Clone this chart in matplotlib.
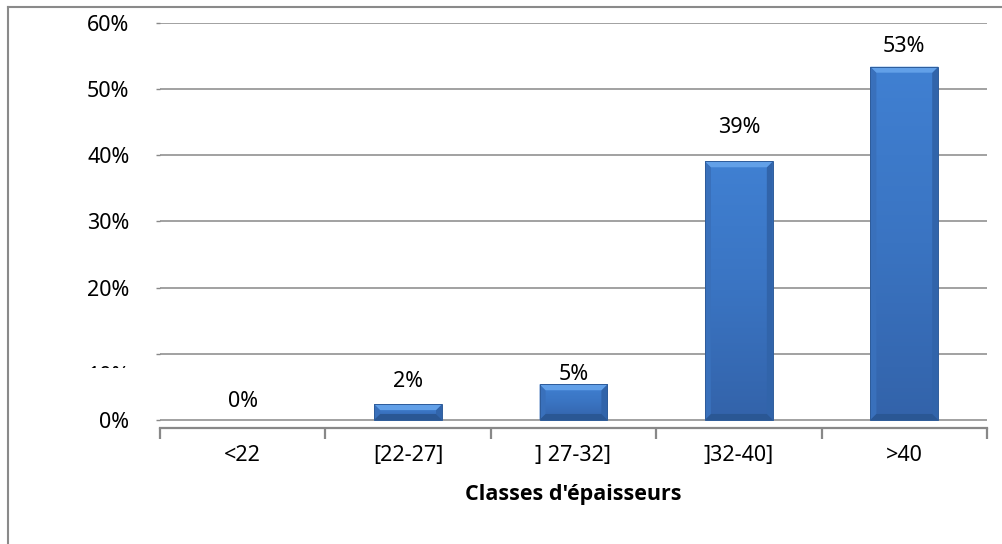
import matplotlib
matplotlib.use("Agg")
import matplotlib.pyplot as plt
import numpy as np
from matplotlib.patches import Polygon, Rectangle
from matplotlib.lines import Line2D
from matplotlib.transforms import offset_copy

categories = ["<22", "[22-27]", "] 27-32]", "]32-40]", ">40"]
values = [0.000, 0.024, 0.054, 0.391, 0.534]
value_labels = ["0%", "2%", "5%", "39%", "53%"]
y_ticks = [0.0, 0.1, 0.2, 0.3, 0.4, 0.5, 0.6]
y_tick_labels = ["0%", "10%", "20%", "30%", "40%", "50%", "60%"]
x_title = "Classes d'épaisseurs"

# label offsets above bar top (pixels), mimicking the reference placement
label_offsets_px = [18, 23, 10, 34, 20]

W, H = 1003, 544
DPI = 100
FONT = "Noto Sans"
FS = 15.5

plt.rcParams['font.family'] = [FONT, 'DejaVu Sans']

fig = plt.figure(figsize=(W / DPI, H / DPI), dpi=DPI)
fig.patch.set_facecolor("white")

ax_left, ax_right, ax_top, ax_bottom = 160, 987, 23, 428
ax = fig.add_axes([ax_left / W, 1 - ax_bottom / H, (ax_right - ax_left) / W, (ax_bottom - ax_top) / H])

ymin = -0.1 * 8 / 66
ax.set_ylim(ymin, 0.6)
ax.set_xlim(-0.5, len(categories) - 0.5)

grid_color = "#888888"
for s in ["left", "right", "top"]:
    ax.spines[s].set_visible(False)
ax.spines["bottom"].set_color(grid_color)
ax.spines["bottom"].set_linewidth(1.6)

ax.set_yticks(y_ticks)
ax.set_yticklabels([l if l != "10%" else "" for l in y_tick_labels], fontsize=FS)
ax.tick_params(axis="y", length=3, width=1, color=grid_color, pad=19)
ax.yaxis.grid(True, color=grid_color, linewidth=1.1)
ax.set_axisbelow(True)

x = np.arange(len(categories))
ax.set_xticks(np.arange(-0.5, len(categories)), minor=False)
ax.set_xticklabels([])
ax.tick_params(axis="x", which="major", length=8, width=1.6, color=grid_color, direction="out")
ax.set_xticks(x, minor=True)
ax.set_xticklabels(categories, minor=True, fontsize=FS)
ax.tick_params(axis="x", which="minor", length=0, pad=12.5)
ax.set_xlabel(x_title, fontsize=15.5, fontweight="bold", family=["Open Sans", "DejaVu Sans"], labelpad=13)

# truncated 10% label as in reference (only the very top of the glyphs shows)
i10 = y_tick_labels.index("10%")
t10 = ax.text(0, y_ticks[i10], y_tick_labels[i10], fontsize=FS, ha="right", va="top",
              transform=offset_copy(ax.get_yaxis_transform(), fig=fig, x=-22, y=-9, units="points"),
              clip_on=True)
clip = Rectangle((0, 1 - 368 / H), 1, 3 / H, transform=fig.transFigure, visible=False)
fig.add_artist(clip)
t10.set_clip_path(clip)

# bars
bar_w = 0.41
base = "#3A74C2"
bars = ax.bar(x, values, width=bar_w, color=base, edgecolor="none", zorder=3)

px_x = (ax_right - ax_left) / (len(categories))  # pixels per x unit
px_y = (ax_bottom - ax_top) / (0.6 - ymin)        # pixels per y unit
bev_px = 6
bx = bev_px / px_x
by = bev_px / px_y

cmap = matplotlib.colors.LinearSegmentedColormap.from_list("g", ["#3363AA", "#3A74C2", "#4080D2"])
for b, v in zip(bars, values):
    if v <= 0:
        continue
    x0 = b.get_x(); x1 = x0 + b.get_width(); y0 = 0; y1 = v
    grad = np.linspace(0, 1, 100).reshape(-1, 1)
    im = ax.imshow(grad, extent=[x0, x1, y0, y1], origin="lower", cmap=cmap, aspect="auto", zorder=3.1)
    im.set_clip_path(b)
    byy = min(by, v / 2.5)
    # top bevel (light)
    ax.add_patch(Polygon([[x0, y1], [x1, y1], [x1 - bx, y1 - byy], [x0 + bx, y1 - byy]],
                         closed=True, facecolor="#62A0E8", edgecolor="none", zorder=3.3))
    # bottom bevel (dark)
    ax.add_patch(Polygon([[x0, y0], [x1, y0], [x1 - bx, y0 + byy], [x0 + bx, y0 + byy]],
                         closed=True, facecolor="#2A5794", edgecolor="none", zorder=3.3))
    # left bevel
    ax.add_patch(Polygon([[x0, y0], [x0, y1], [x0 + bx, y1 - byy], [x0 + bx, y0 + byy]],
                         closed=True, facecolor="#3970BB", edgecolor="none", zorder=3.2))
    # right bevel
    ax.add_patch(Polygon([[x1, y0], [x1, y1], [x1 - bx, y1 - byy], [x1 - bx, y0 + byy]],
                         closed=True, facecolor="#3164AA", edgecolor="none", zorder=3.2))
    ax.add_patch(Rectangle((x0, y0), x1 - x0, y1 - y0, facecolor="none", edgecolor="#2E5C9A",
                           linewidth=0.7, zorder=3.4))

for xi, v, lab, off in zip(x, values, value_labels, label_offsets_px):
    ax.annotate(lab, (xi, v), xytext=(0, off * 72 / DPI), textcoords="offset points",
                ha="center", va="center", fontsize=FS, zorder=5)

# outer chart border (left and top visible)
fig.add_artist(Line2D([8 / W, 8 / W], [0, 1 - 7 / H], transform=fig.transFigure, color="#8a8a8a", lw=1.5))
fig.add_artist(Line2D([8 / W, 1.0], [1 - 7 / H, 1 - 7 / H], transform=fig.transFigure, color="#8a8a8a", lw=1.5))

fig.savefig("out.png", dpi=DPI)
